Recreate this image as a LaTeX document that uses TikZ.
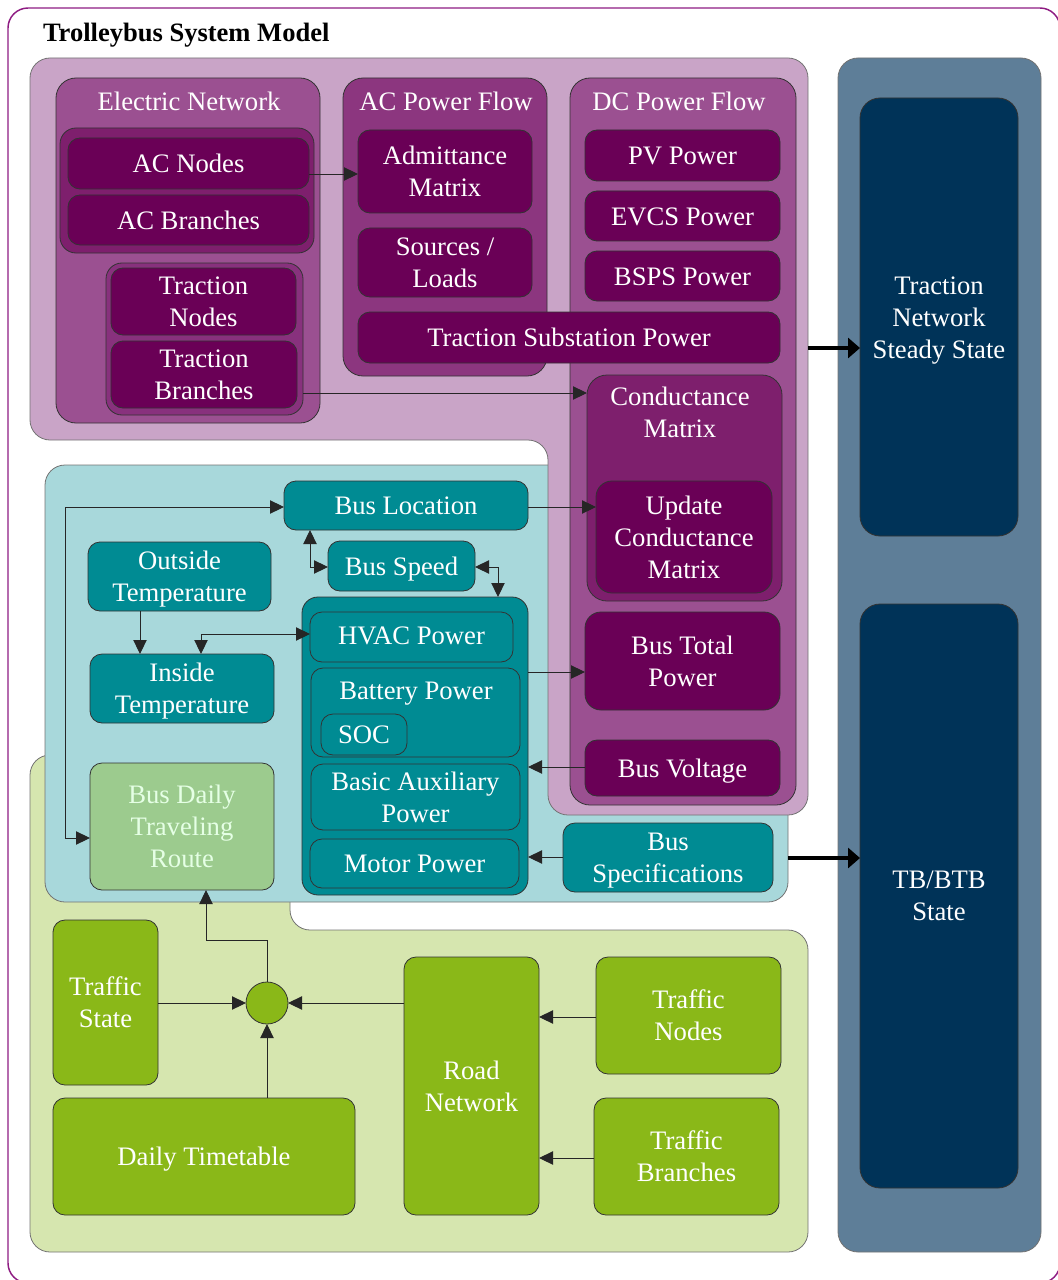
\documentclass[tikz,border=0pt]{standalone}
\usepackage{fontspec}
\setmainfont{Liberation Serif}
\usetikzlibrary{arrows.meta,fit,calc}

\definecolor{framec}{HTML}{8E1C82}
\definecolor{mauvebg}{HTML}{C9A4C7}
\definecolor{purplemid}{HTML}{9B5091}
\definecolor{purpleacpf}{HTML}{8C367F}
\definecolor{purplegrp}{HTML}{7E1F6D}
\definecolor{purpletr}{HTML}{88317D}
\definecolor{purplebox}{HTML}{6A0056}
\definecolor{cyanbg}{HTML}{A8D8DB}
\definecolor{tealbox}{HTML}{008B93}
\definecolor{routebox}{HTML}{9CCB8E}
\definecolor{greenbg}{HTML}{D6E6AF}
\definecolor{greenbox}{HTML}{8AB818}
\definecolor{slate}{HTML}{5E7E98}
\definecolor{navy}{HTML}{003358}

\tikzset{
  every node/.style={font=\fontsize{20}{24}\selectfont, text=white, align=center,
                     inner sep=0pt, outer sep=0pt},
  region/.style={draw=black!55, line width=0.6pt, rounded corners=15pt},
  bx/.style={draw=black!80, line width=0.6pt, rounded corners=9pt},
  pbox/.style={bx, fill=purplebox},
  tbox/.style={bx, fill=tealbox},
  gbox/.style={bx, fill=greenbox},
  nbox/.style={bx, fill=navy},
  dn/.style={yshift=-2.2pt},
  arr/.style={draw=black!85, line width=0.7pt, -{Triangle[length=10.5pt,width=10pt]}},
  barr/.style={draw=black!85, line width=0.7pt, {Triangle[length=10.5pt,width=10pt]}-{Triangle[length=10.5pt,width=10pt]}},
  tharr/.style={draw=black, line width=2.3pt, -{Triangle[length=9pt,width=15pt]}},
}

\begin{document}
\begin{tikzpicture}[x=0.75pt,y=-0.75pt]
\useasboundingbox (0,0) rectangle (1057,1280);

% outer frame and heading
\draw[framec, line width=1.1pt, rounded corners=15pt] (8,8) rectangle (1060,1283);
\node[anchor=west, text=black, font=\fontsize{19.9}{24}\selectfont\bfseries] (title) at (43,35) {Trolleybus System Model};

% state column on the right
\node[region, fill=slate, fit={(838,58) (1041,1252)}] (statecol) {};
\node[nbox, rounded corners=15pt, fit={(860,98) (1018,536)}] (tnss) {};
\node[yshift=-3pt] (tnss-t) at (tnss) {Traction\\Network\\Steady State};
\node[nbox, rounded corners=15pt, fit={(860,604) (1018,1188)}] (tbs) {};
\node (tbs-t) at (tbs) {TB/BTB\\State};

% traffic region
\draw[region, fill=greenbg] (30,755) -- (290,755) -- (290,930) -- (808,930) -- (808,1252) -- (30,1252) -- cycle;

% bus region
\draw[region, fill=cyanbg] (45,465) rectangle (788,902);

% electric region
\draw[region, fill=mauvebg] (30,58) -- (808,58) -- (808,815) -- (548,815) -- (548,440) -- (30,440) -- cycle;

% ---------- Electric Network ----------
\node[bx, rounded corners=15pt, fill=purplemid, fit={(56,78) (320,423)}] (elnet) {};
\node (elnet-t) at (189,101) {Electric Network};
\node[bx, rounded corners=12pt, fill=purplegrp, fit={(60,128) (314,253)}] (acgrp) {};
\node[pbox, fit={(68,138) (309,189)}] (acn) {};
\node (acn-t) at (acn) {AC Nodes};
\node[pbox, fit={(68,195) (309,245)}] (acb) {};
\node (acb-t) at (acb) {AC Branches};
\node[bx, rounded corners=12pt, fill=purpletr, fit={(106,263) (303,415)}] (trgrp) {};
\node[pbox, fit={(111,268) (296,335)}] (trn) {};
\node (trn-t) at (trn) {Traction\\Nodes};
\node[pbox, fit={(111,341) (297,408)}] (trb) {};
\node (trb-t) at (trb) {Traction\\Branches};

% ---------- AC Power Flow ----------
\node[bx, rounded corners=15pt, fill=purpleacpf, fit={(343,78) (547,376)}] (acpf) {};
\node (acpf-t) at (446,101) {AC Power Flow};
\node[pbox, fit={(358,130) (532,213)}] (adm) {};
\node (adm-t) at (adm) {Admittance\\Matrix};
\node[pbox, fit={(358,228) (532,297)}] (srcl) {};
\node (srcl-t) at (srcl) {Sources /\\Loads};

% ---------- DC Power Flow ----------
\node[bx, rounded corners=15pt, fill=purplemid, fit={(570,78) (796,805)}] (dcpf) {};
\node (dcpf-t) at (679,101) {DC Power Flow};
\node[pbox, fit={(585,130) (780,181)}] (pv) {};
\node (pv-t) at (pv) {PV Power};
\node[pbox, fit={(585,191) (780,241)}] (evcs) {};
\node[yshift=-0.8pt] (evcs-t) at (evcs) {EVCS Power};
\node[pbox, fit={(585,251) (780,301)}] (bsps) {};
\node[yshift=-0.8pt] (bsps-t) at (bsps) {BSPS Power};
\node[pbox, fit={(358,312) (780,363)}] (tss) {};
\node (tss-t) at (tss) {Traction Substation Power};
\node[bx, rounded corners=15pt, fill=purplegrp, fit={(587,375) (782,601)}] (cond) {};
\node (cond-t) at (680,412) {Conductance\\Matrix};
\node[pbox, rounded corners=12pt, fit={(596,481) (772,593)}] (ucm) {};
\node (ucm-t) at (ucm) {Update\\Conductance\\Matrix};
\node[pbox, rounded corners=12pt, fit={(585,612) (780,710)}] (btp) {};
\node (btp-t) at (btp) {Bus Total\\Power};
\node[pbox, fit={(585,740) (780,796)}] (bv) {};
\node[dn] (bv-t) at (bv) {Bus Voltage};

% ---------- bus model ----------
\node[tbox, fit={(284,481) (528,530)}] (loc) {};
\node (loc-t) at (loc) {Bus Location};
\node[tbox, fit={(328,541) (475,591)}] (spd) {};
\node[dn] (spd-t) at (spd) {Bus Speed};
\node[tbox, fit={(88,542) (271,611)}] (outt) {};
\node[dn] (outt-t) at (outt) {Outside\\Temperature};
\node[tbox, fit={(90,654) (274,723)}] (int) {};
\node[dn] (int-t) at (int) {Inside\\Temperature};
\node[bx, rounded corners=12pt, fill=tealbox, fit={(302,597) (528,895)}] (pgrp) {};
\node[tbox, fit={(310,612) (513,662)}] (hvac) {};
\node[yshift=1.2pt] (hvac-t) at (hvac) {HVAC Power};
\node[tbox, fit={(311,668) (520,757)}] (batt) {};
\node (batt-t) at (416,694) {Battery Power};
\node[tbox, fit={(321,714) (407,755)}] (soc) {};
\node (soc-t) at (soc) {SOC};
\node[tbox, fit={(311,764) (520,830)}] (aux) {};
\node (aux-t) at (aux) {Basic Auxiliary\\Power};
\node[tbox, fit={(310,839) (519,888)}] (mot) {};
\node (mot-t) at (mot) {Motor Power};
\node[bx, fill=routebox, fit={(90,763) (274,890)}] (route) {};
\node[text=white!90!green] (route-t) at (route) {Bus Daily\\Traveling\\Route};
\node[tbox, fit={(563,823) (773,892)}] (spec) {};
\node[dn] (spec-t) at (spec) {Bus\\Specifications};

% ---------- traffic model ----------
\node[gbox, fit={(53,920) (158,1085)}] (ts) {};
\node (ts-t) at (ts) {Traffic\\State};
\node[gbox, fit={(53,1098) (355,1215)}] (tt) {};
\node[dn] (tt-t) at (tt) {Daily Timetable};
\node[gbox, fit={(404,957) (539,1215)}] (road) {};
\node (road-t) at (road) {Road\\Network};
\node[gbox, fit={(596,957) (781,1074)}] (tn) {};
\node (tn-t) at (tn) {Traffic\\Nodes};
\node[gbox, fit={(594,1098) (779,1215)}] (tb) {};
\node (tb-t) at (tb) {Traffic\\Branches};
\node[circle, draw=black!80, line width=0.6pt, fill=greenbox, minimum size=31.5pt] (junc) at (267,1003) {};

% ---------- connectors ----------
\draw[arr] (acn.east |- 0,174) -- (adm.west |- 0,174);
\draw[arr] (trgrp.east |- 0,393) -- (cond.west |- 0,393);
\draw[arr] (loc.east |- 0,507) -- (ucm.west |- 0,507);
\draw[arr] (pgrp.east |- 0,672) -- (btp.west |- 0,672);
\draw[arr] (bv.west |- 0,767) -- (pgrp.east |- 0,767);
\draw[arr] (spec.west |- 0,857) -- (pgrp.east |- 0,857);

\coordinate (dcout) at (808,348);
\draw[tharr] (dcout) -- (tnss.west |- dcout);
\coordinate (busout) at (788,858);
\draw[tharr] (busout) -- (tbs.west |- busout);

\draw[barr] (loc.south -| 310,0) |- (spd.west |- 0,567);
\draw[barr] (spd.east |- 0,567) -| (pgrp.north -| 498,0);
\draw[arr] (outt.south -| 140,0) -- (int.north -| 140,0);
\draw[barr] (int.north -| 201,0) |- (hvac.west |- 0,634);
\coordinate (lbend) at (65,507);
\draw[barr] (loc.west |- lbend) -- (lbend) |- (route.west |- 0,838);

\coordinate (jbend) at (206,940);
\draw[arr] (junc.north) |- (jbend) -- (route.south -| jbend);
\draw[arr] (ts.east |- junc) -- (junc.west);
\draw[arr] (road.west |- junc) -- (junc.east);
\draw[arr] (tt.north -| junc) -- (junc.south);
\draw[arr] (tn.west |- 0,1017) -- (road.east |- 0,1017);
\draw[arr] (tb.west |- 0,1158) -- (road.east |- 0,1158);

\end{tikzpicture}
\end{document}
